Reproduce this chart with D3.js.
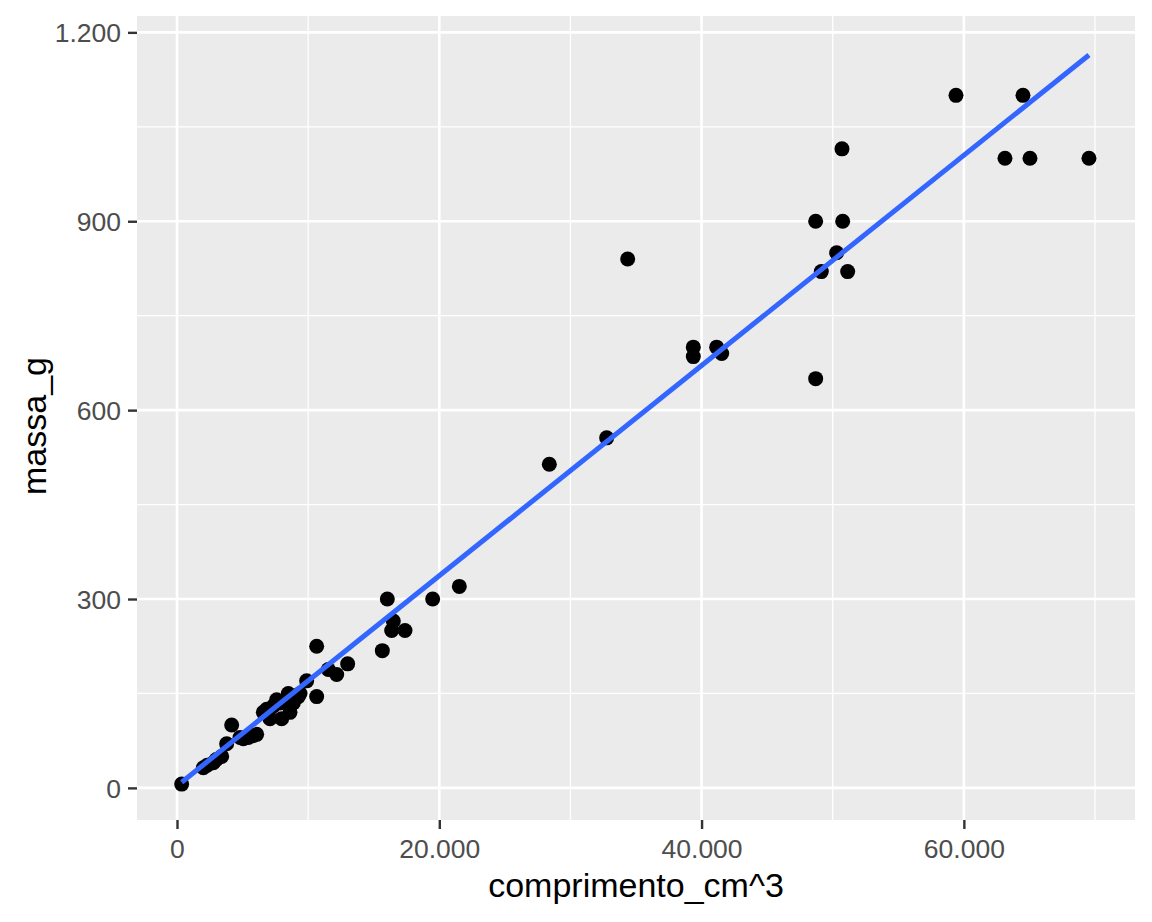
<!DOCTYPE html>
<html>
<head>
<meta charset="utf-8">
<script src="https://cdn.jsdelivr.net/npm/d3@7/dist/d3.min.js"></script>
<style>
  html, body { margin: 0; padding: 0; background: #fff; }
  text { font-family: "Liberation Sans", Arial, Helvetica, sans-serif; }
</style>
</head>
<body>
<div id="chart"></div>
<script>
// values
var comprimento = [356, 2008, 2300, 2770, 3000, 3406, 3787, 4169, 4804, 5058, 5439, 5800, 6075,
  6583, 6837, 7091, 7345, 7600, 7854, 7981, 8489, 8616, 8870, 9250, 9379, 9887, 10650, 10650,
  11537, 12176, 13013, 15656, 16037, 16370, 16495, 17385, 19495, 21528, 28390, 32763, 34365,
  39370, 39370, 41150, 41533, 48700, 48700, 49130, 50300, 50760, 50706, 51140, 59400, 63135,
  64508, 65041, 69540];
var massa = [6, 32, 36, 40, 45, 50, 70, 100, 80, 78, 80, 83, 85,
  120, 125, 110, 130, 140, 135, 110, 150, 120, 135, 145, 150, 170, 225, 145,
  188, 180, 197, 218, 300, 250, 265, 250, 300, 320, 514, 556, 840,
  700, 685, 700, 690, 900, 650, 820, 850, 900, 1015, 820, 1100, 1000,
  1100, 1000, 1000];

// lm fit line ends, as drawn
var fitX = [356, 69540];
var fitY = [9, 1164];

var xBreaks = [0, 20000, 40000, 60000];
var xMinor = [10000, 30000, 50000, 70000];
var yBreaks = [0, 300, 600, 900, 1200];
var yMinor = [150, 450, 750, 1050];

var xDomain = [-3050, 73050];
var yDomain = [-51, 1226];

var width = 1152, height = 922;
var panel = { left: 137, right: 1135, top: 16, bottom: 820 };

var ptBR = d3.formatLocale({ decimal: ',', thousands: '.', grouping: [3], currency: ['', ''] });
var fmt = ptBR.format(',d');

var svg = d3.select('#chart').append('svg')
  .attr('width', width).attr('height', height);

var x = d3.scaleLinear().domain(xDomain).range([panel.left, panel.right]);
var y = d3.scaleLinear().domain(yDomain).range([panel.bottom, panel.top]);

// panel background
svg.append('rect')
  .attr('x', panel.left).attr('y', panel.top)
  .attr('width', panel.right - panel.left).attr('height', panel.bottom - panel.top)
  .attr('fill', '#EBEBEB');

var grid = svg.append('g');
// minor grid
grid.selectAll('.xminor').data(xMinor).enter().append('line')
  .attr('x1', x).attr('x2', x).attr('y1', panel.top).attr('y2', panel.bottom)
  .attr('stroke', '#fff').attr('stroke-width', 1.3);
grid.selectAll('.yminor').data(yMinor).enter().append('line')
  .attr('y1', y).attr('y2', y).attr('x1', panel.left).attr('x2', panel.right)
  .attr('stroke', '#fff').attr('stroke-width', 1.3);
// major grid
grid.selectAll('.xmajor').data(xBreaks).enter().append('line')
  .attr('x1', x).attr('x2', x).attr('y1', panel.top).attr('y2', panel.bottom)
  .attr('stroke', '#fff').attr('stroke-width', 2.6);
grid.selectAll('.ymajor').data(yBreaks).enter().append('line')
  .attr('y1', y).attr('y2', y).attr('x1', panel.left).attr('x2', panel.right)
  .attr('stroke', '#fff').attr('stroke-width', 2.6);

// points
var pts = comprimento.map(function(d, i) { return { x: d, y: massa[i] }; });
svg.append('g').selectAll('circle').data(pts).enter().append('circle')
  .attr('cx', function(d) { return x(d.x); })
  .attr('cy', function(d) { return y(d.y); })
  .attr('r', 7.5)
  .attr('fill', '#000');

// fitted line
var fit = fitX.map(function(d, i) { return [d, fitY[i]]; });
svg.append('path').datum(fit)
  .attr('d', d3.line().x(function(d) { return x(d[0]); }).y(function(d) { return y(d[1]); }))
  .attr('fill', 'none').attr('stroke', '#3366FF').attr('stroke-width', 5);

// axes
var xAxis = svg.append('g')
  .attr('transform', 'translate(0,' + panel.bottom + ')')
  .call(d3.axisBottom(x).tickValues(xBreaks).tickFormat(fmt).tickSize(9).tickPadding(6));
var yAxis = svg.append('g')
  .attr('transform', 'translate(' + panel.left + ',0)')
  .call(d3.axisLeft(y).tickValues(yBreaks).tickFormat(fmt).tickSize(9).tickPadding(7));

[xAxis, yAxis].forEach(function(ax) {
  ax.select('.domain').remove();
  ax.selectAll('.tick line').attr('stroke', '#333').attr('stroke-width', 2.4);
  ax.selectAll('.tick text').attr('fill', '#4D4D4D').style('font-size', '26.5px')
    .style('font-family', '"Liberation Sans", Arial, sans-serif');
});
xAxis.selectAll('.tick text').attr('dy', '0.88em');
yAxis.selectAll('.tick text').attr('dy', '0.36em');

// axis titles
svg.append('text')
  .attr('x', (panel.left + panel.right) / 2).attr('y', 897)
  .attr('text-anchor', 'middle').attr('fill', '#000')
  .style('font-size', '34px')
  .text('comprimento_cm^3');

svg.append('text')
  .attr('transform', 'translate(46,' + ((panel.top + panel.bottom) / 2 + 8) + ') rotate(-90)')
  .attr('text-anchor', 'middle').attr('fill', '#000')
  .style('font-size', '34px')
  .text('massa_g');
</script>
</body>
</html>
